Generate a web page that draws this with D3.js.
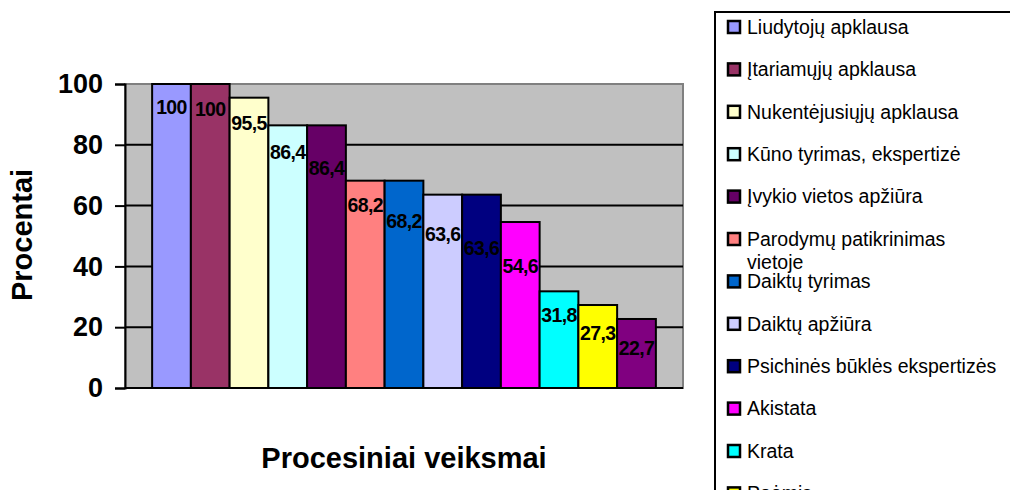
<!DOCTYPE html>
<html>
<head>
<meta charset="utf-8">
<script src="https://cdn.jsdelivr.net/npm/d3@7"></script>
<style>
  body { margin: 0; background: #fff; }
  svg { font-family: "Liberation Sans", Arial, sans-serif; }
</style>
</head>
<body>
<svg id="chart" width="1010" height="490"></svg>
<script>
// data
const actions = [
  "Liudytojų apklausa",
  "Įtariamųjų apklausa",
  "Nukentėjusiųjų apklausa",
  "Kūno tyrimas, ekspertizė",
  "Įvykio vietos apžiūra",
  "Parodymų patikrinimas vietoje",
  "Daiktų tyrimas",
  "Daiktų apžiūra",
  "Psichinės būklės ekspertizės",
  "Akistata",
  "Krata",
  "Poėmis",
  "Kita"
];
const percents = [100, 100, 95.5, 86.4, 86.4, 68.2, 68.2, 63.6, 63.6, 54.6, 31.8, 27.3, 22.7];
const colors = ["#9999FF", "#993366", "#FFFFCC", "#CCFFFF", "#660066", "#FF8080", "#0066CC",
                "#CCCCFF", "#000080", "#FF00FF", "#00FFFF", "#FFFF00", "#800080"];
const yTicks = [0, 20, 40, 60, 80, 100];

// label nudges (px below bar top), layout only
const labelDrop = [23, 25, 25, 27, 43, 25, 41, 40, 54, 44, 24, 28, 29];

const svg = d3.select("#chart");
const margin = { top: 84, right: 327, bottom: 102, left: 125 };
const width = 1010 - margin.left - margin.right;
const height = 490 - margin.top - margin.bottom;

const g = svg.append("g").attr("transform", `translate(${margin.left},${margin.top})`);

const x = d3.scaleBand()
  .domain(actions)
  .range([0, width])
  .paddingInner(0)
  .paddingOuter(0.7);

const y = d3.scaleLinear().domain([0, 100]).range([height, 0]);

// plot area
g.append("rect")
  .attr("width", width)
  .attr("height", height)
  .attr("fill", "#C0C0C0")
  .attr("stroke", "#808080")
  .attr("stroke-width", 2);

// gridlines
g.selectAll(".grid")
  .data(yTicks.filter((d) => d > 0 && d < 100))
  .enter()
  .append("line")
  .attr("x1", 0)
  .attr("x2", width)
  .attr("y1", (d) => y(d))
  .attr("y2", (d) => y(d))
  .attr("stroke", "#000")
  .attr("stroke-width", 2);

// bars
g.selectAll(".bar")
  .data(percents)
  .enter()
  .append("rect")
  .attr("x", (d, i) => x(actions[i]))
  .attr("y", (d) => y(d))
  .attr("width", x.bandwidth())
  .attr("height", (d) => height - y(d))
  .attr("fill", (d, i) => colors[i])
  .attr("stroke", "#000")
  .attr("stroke-width", 2);

// bar labels
const fmt = (v) => String(v).replace(".", ",");
g.selectAll(".bar-label")
  .data(percents)
  .enter()
  .append("text")
  .attr("x", (d, i) => x(actions[i]) + x.bandwidth() / 2)
  .attr("y", (d, i) => y(d) + labelDrop[i])
  .attr("dy", "0.35em")
  .attr("text-anchor", "middle")
  .attr("font-size", 19.5)
  .attr("font-weight", "bold")
  .attr("letter-spacing", -0.6)
  .attr("fill", "#000")
  .text(fmt);

// y axis
const yAxis = g.append("g")
  .call(d3.axisLeft(y).tickValues(yTicks).tickSize(10).tickPadding(12));
yAxis.select(".domain").attr("stroke", "#000").attr("stroke-width", 2);
yAxis.selectAll(".tick line").attr("stroke", "#000").attr("stroke-width", 2);
yAxis.selectAll("text")
  .attr("font-size", 27)
  .attr("font-weight", "bold")
  .attr("font-family", "Liberation Sans, Arial, sans-serif")
  .attr("fill", "#000");

// x axis line
g.append("line")
  .attr("x1", 0)
  .attr("x2", width)
  .attr("y1", height)
  .attr("y2", height)
  .attr("stroke", "#000")
  .attr("stroke-width", 2);

// axis titles
svg.append("text")
  .attr("transform", `translate(22,${margin.top + height / 2 - 1}) rotate(-90)`)
  .attr("text-anchor", "middle")
  .attr("dy", "0.35em")
  .attr("font-size", 29)
  .attr("font-weight", "bold")
  .text("Procentai");

svg.append("text")
  .attr("x", 404)
  .attr("y", 468)
  .attr("text-anchor", "middle")
  .attr("font-size", 29)
  .attr("font-weight", "bold")
  .text("Procesiniai veiksmai");

// legend
const legend = svg.append("g").attr("transform", "translate(715,12)");
legend.append("rect")
  .attr("width", 320)
  .attr("height", 520)
  .attr("fill", "#fff")
  .attr("stroke", "#000")
  .attr("stroke-width", 2);

const rowH = 42.4;
const items = legend.selectAll(".item")
  .data(actions)
  .enter()
  .append("g")
  .attr("transform", (d, i) => `translate(0,${15 + i * rowH})`);

items.append("rect")
  .attr("x", 13)
  .attr("y", -6)
  .attr("width", 12)
  .attr("height", 12)
  .attr("fill", (d, i) => colors[i])
  .attr("stroke", "#000")
  .attr("stroke-width", 2.5);

items.each(function (d) {
  const t = d3.select(this).append("text")
    .attr("x", 32)
    .attr("font-size", 19.5)
    .attr("fill", "#000");
  if (d === "Parodymų patikrinimas vietoje") {
    t.append("tspan").attr("x", 32).attr("y", 0).attr("dy", "0.35em").text("Parodymų patikrinimas");
    t.append("tspan").attr("x", 32).attr("y", 23).attr("dy", "0.35em").text("vietoje");
  } else {
    t.attr("dy", "0.35em").text(d);
  }
});
</script>
</body>
</html>
